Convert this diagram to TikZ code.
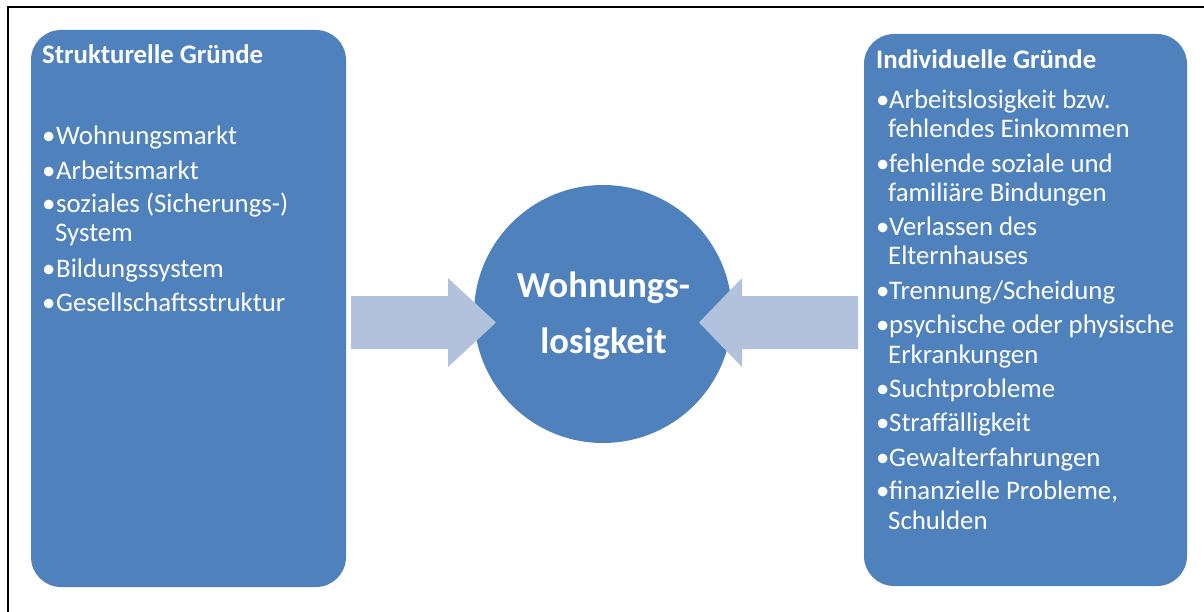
\documentclass[tikz,border=0pt]{standalone}
\usepackage{fontspec}
\setmainfont{Carlito}
\definecolor{boxblue}{HTML}{4F81BD}
\definecolor{arrowblue}{HTML}{B3C2DC}
\begin{document}
\begin{tikzpicture}[x=1pt,y=-1pt,
  panel/.style={fill=boxblue, rounded corners=30pt, inner sep=0pt},
  hub/.style={circle, fill=boxblue, inner sep=0pt, minimum size=258pt},
  hubtext/.style={anchor=base, inner sep=0pt, text=white, font=\fontsize{36.6}{40}\selectfont\bfseries},
  heading/.style={anchor=base west, inner sep=0pt, text=white, font=\fontsize{26.8}{30}\selectfont\bfseries},
  entry/.style={anchor=base west, inner sep=0pt, text=white, font=\fontsize{26.8}{30}\selectfont},
  flow/.style={fill=arrowblue}]
\useasboundingbox (0,0) rectangle (1204,612);
% outer frame (top and left edges)
\draw[line width=2pt] (8,612) -- (8,7) -- (1204,7);

% side panels and the central circle
\node[panel, minimum width=315pt, minimum height=557pt] (left) at (188.5,308.5) {};
\node[panel, minimum width=323pt, minimum height=552pt] (right) at (1025.5,310) {};
\node[hub] (hub) at (603,314) {};

% block arrows pointing into the circle
\coordinate (la) at (351,322.5);
\coordinate (ra) at (858,322.5);
\fill[flow] (la) ++(0,-26.5) -- ++(97,0) -- ++(0,-18) -- ++(48,44.5)
  -- ++(-48,44.5) -- ++(0,-18) -- ++(-97,0) -- cycle;
\fill[flow] (ra) ++(0,-26.5) -- ++(-116,0) -- ++(0,-18) -- ++(-43,44.5)
  -- ++(43,44.5) -- ++(0,-18) -- ++(116,0) -- cycle;

% central label
\node[hubtext] (hub1) at (603.5,298) {Wohnungs-};
\node[hubtext] (hub2) at (603.5,353) {losigkeit};

% left panel
\node[heading] (lh) at (42,64) {Strukturelle Gründe};
\foreach \y/\n in {145/lb1,180/lb2,213/lb3,277/lb4,311/lb5}
  \node[entry] (\n) at (42,\y) {•};
\node[entry] (lt1) at (56,145) {Wohnungsmarkt};
\node[entry] (lt2) at (56,180) {Arbeitsmarkt};
\node[entry] (lt3) at (56,213) {soziales (Sicherungs-)};
\node[entry] (lt3b) at (55,242) {System};
\node[entry] (lt4) at (56,277) {Bildungssystem};
\node[entry] (lt5) at (56,311) {Gesellschaftsstruktur};

% right panel
\node[heading] (rh) at (876,69) {Individuelle Gründe};
\foreach \y/\n in {109/rb1,173/rb2,236/rb3,299/rb4,333/rb5,397/rb6,431/rb7,466/rb8,499/rb9}
  \node[entry] (\n) at (876,\y) {•};
\node[entry] (rt1) at (889,109) {Arbeitslosigkeit bzw.};
\node[entry] (rt1b) at (888,138) {fehlendes Einkommen};
\node[entry] (rt2) at (889,173) {fehlende soziale und};
\node[entry] (rt2b) at (888,202) {familiäre Bindungen};
\node[entry] (rt3) at (889,236) {Verlassen des};
\node[entry] (rt3b) at (888,265) {Elternhauses};
\node[entry] (rt4) at (889,299) {Trennung/Scheidung};
\node[entry] (rt5) at (889,333) {psychische oder physische};
\node[entry] (rt5b) at (888,363) {Erkrankungen};
\node[entry] (rt6) at (889,397) {Suchtprobleme};
\node[entry] (rt7) at (889,431) {Straffälligkeit};
\node[entry] (rt8) at (889,466) {Gewalterfahrungen};
\node[entry] (rt9) at (889,499) {finanzielle Probleme,};
\node[entry] (rt9b) at (888,529) {Schulden};
\end{tikzpicture}
\end{document}
